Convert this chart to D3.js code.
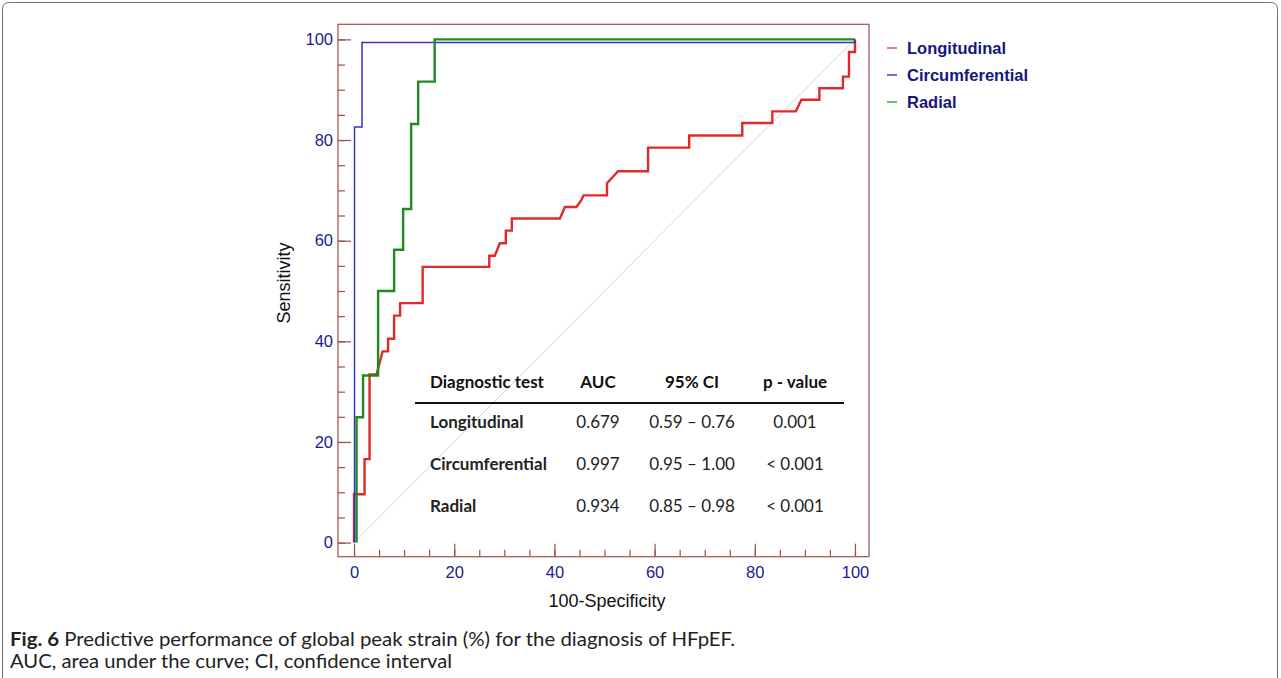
<!DOCTYPE html>
<html>
<head>
<meta charset="utf-8">
<script src="https://cdn.jsdelivr.net/npm/d3@7"></script>
<style>
  html, body { margin: 0; padding: 0; background: #fff; }
  svg { display: block; }
</style>
</head>
<body>
<svg id="chart" width="1281" height="678"></svg>
<script>
// ROC vertices: [100-specificity, sensitivity]
const rocLongitudinal = [
  [0, 0], [0, 9.6], [2.1, 9.6], [2.1, 16.6], [3.1, 16.6], [3.1, 33.4], [4.5, 33.4],
  [5.7, 38.0], [6.8, 38.0], [6.8, 40.5], [8.0, 40.5], [8.0, 45.1], [9.2, 45.1],
  [9.2, 47.6], [13.7, 47.6], [13.7, 54.8], [27.0, 54.8], [27.0, 57.0], [28.1, 57.0],
  [29.1, 59.5], [30.3, 59.5], [30.3, 62.0], [31.5, 62.0], [31.5, 64.4], [41.1, 64.4],
  [42.1, 66.7], [44.4, 66.7], [45.4, 68.1], [45.8, 69.0], [50.5, 69.0], [50.5, 71.4],
  [52.7, 73.8], [58.7, 73.8], [58.7, 78.5], [66.9, 78.5], [66.9, 80.9], [77.5, 80.9],
  [77.5, 83.4], [83.5, 83.4], [83.5, 85.7], [88.2, 85.7], [89.3, 88.0], [92.9, 88.0],
  [92.9, 90.3], [97.6, 90.3], [97.6, 92.6], [98.8, 92.6], [98.8, 97.5], [100, 97.5],
  [100, 100]
];
const rocCircumferential = [
  [0.1, 0], [0.1, 82.6], [1.6, 82.6], [1.6, 99.4], [100, 99.4], [100, 100]
];
const rocRadial = [
  [0.5, 0], [0.5, 24.9], [1.8, 24.9], [1.8, 33.2], [4.8, 33.2], [4.8, 50.0],
  [8.0, 50.0], [8.0, 58.2], [9.8, 58.2], [9.8, 66.3], [11.4, 66.3], [11.4, 83.2],
  [12.8, 83.2], [12.8, 91.6], [16.1, 91.6], [16.1, 100], [100, 100]
];

const seriesNames = ["Longitudinal", "Circumferential", "Radial"];
const seriesColors = ["#e02a2a", "#3434c4", "#1f8a1f"];
const legendColors = ["#d25a5a", "#3c3ce6", "#3e9e3e"];
const seriesWidths = [2.4, 1.5, 2.4];

const majorTicks = [0, 20, 40, 60, 80, 100];
const minorTicks = d3.range(0, 101, 5);

const tableHeader = ["Diagnostic test", "AUC", "95% CI", "p - value"];
const tableRows = [
  ["Longitudinal", "0.679", "0.59 \u2013 0.76", "0.001"],
  ["Circumferential", "0.997", "0.95 \u2013 1.00", "< 0.001"],
  ["Radial", "0.934", "0.85 \u2013 0.98", "< 0.001"]
];

const captionBold = "Fig. 6";
const captionLine1 = " Predictive performance of global peak strain (%) for the diagnosis of HFpEF.";
const captionLine2 = "AUC, area under the curve; CI, confidence interval";

const svg = d3.select("#chart");

// figure frame
svg.append("rect")
  .attr("x", 2.5).attr("y", 2.5)
  .attr("width", 1275).attr("height", 700)
  .attr("rx", 6)
  .attr("fill", "none")
  .attr("stroke", "#6e6e6e")
  .attr("stroke-width", 1);

const plotLeft = 338, plotRight = 869, plotTop = 24.3, plotBottom = 556.7;
const x = d3.scaleLinear().domain([-3.2, 102.8]).range([plotLeft, plotRight]);
const y = d3.scaleLinear().domain([-2.8, 103]).range([plotBottom, plotTop]);

const frameColor = "#a34c4c";
const labelColor = "#1c1c8e";

// diagonal reference
svg.append("line")
  .attr("x1", x(0)).attr("y1", y(0))
  .attr("x2", x(100)).attr("y2", y(100))
  .attr("stroke", "#d4d4d4")
  .attr("stroke-width", 1);

// curves
const line = d3.line().x(d => x(d[0])).y(d => y(d[1]));
[rocLongitudinal, rocCircumferential, rocRadial].forEach((data, i) => {
  svg.append("path")
    .datum(data)
    .attr("d", line)
    .attr("fill", "none")
    .attr("stroke", seriesColors[i])
    .attr("stroke-width", seriesWidths[i])
    .attr("stroke-linejoin", "miter");
});

// plot border
svg.append("rect")
  .attr("x", plotLeft).attr("y", plotTop)
  .attr("width", plotRight - plotLeft).attr("height", plotBottom - plotTop)
  .attr("fill", "none")
  .attr("stroke", frameColor)
  .attr("stroke-width", 1.2);

function styleAxis(g) {
  g.select(".domain").remove();
  g.selectAll(".tick line").attr("stroke", frameColor).attr("stroke-width", 1.2);
  g.selectAll(".tick text")
    .attr("fill", labelColor)
    .attr("font-family", "Liberation Sans, Arial, sans-serif")
    .attr("font-size", 16.5);
}

// x axis: minor + major ticks pointing inward
svg.append("g").attr("transform", `translate(0,${plotBottom})`)
  .call(d3.axisBottom(x).tickValues(minorTicks).tickSize(-7).tickFormat(""))
  .call(styleAxis);
svg.append("g").attr("transform", `translate(0,${plotBottom})`)
  .call(d3.axisBottom(x).tickValues(majorTicks).tickSize(-13).tickPadding(10).tickFormat(d3.format("d")))
  .call(styleAxis);

// y axis
svg.append("g").attr("transform", `translate(${plotLeft},0)`)
  .call(d3.axisLeft(y).tickValues(minorTicks).tickSize(-7).tickFormat(""))
  .call(styleAxis);
svg.append("g").attr("transform", `translate(${plotLeft},0)`)
  .call(d3.axisLeft(y).tickValues(majorTicks).tickSize(-13).tickPadding(5).tickFormat(d3.format("d")))
  .call(styleAxis);

// axis titles
svg.append("text")
  .attr("x", 607).attr("y", 606.5)
  .attr("text-anchor", "middle")
  .attr("font-family", "Liberation Sans, Arial, sans-serif")
  .attr("font-size", 18)
  .attr("fill", "#111")
  .text("100-Specificity");
svg.append("text")
  .attr("transform", "translate(290,283) rotate(-90)")
  .attr("text-anchor", "middle")
  .attr("font-family", "Liberation Sans, Arial, sans-serif")
  .attr("font-size", 18)
  .attr("fill", "#111")
  .text("Sensitivity");

// legend
const legend = svg.append("g").attr("transform", "translate(887,48)");
seriesNames.forEach((name, i) => {
  const g = legend.append("g").attr("transform", `translate(0,${i * 27})`);
  g.append("line")
    .attr("x1", 0).attr("x2", 10).attr("y1", 0).attr("y2", 0)
    .attr("stroke", legendColors[i]).attr("stroke-width", 1.5);
  g.append("text")
    .attr("x", 20).attr("y", 6)
    .attr("font-family", "Liberation Sans, Arial, sans-serif")
    .attr("font-size", 16.5)
    .attr("font-weight", "bold")
    .attr("fill", "#16167e")
    .text(name);
});

// embedded table
const colX = [430, 598, 692, 795];
const colAnchor = ["start", "middle", "middle", "middle"];
const tableFont = "Lato, 'Open Sans', sans-serif";
const table = svg.append("g");
table.selectAll("text.head")
  .data(tableHeader)
  .join("text")
  .attr("class", "head")
  .attr("x", (d, i) => colX[i])
  .attr("y", 388)
  .attr("text-anchor", (d, i) => colAnchor[i])
  .attr("font-family", tableFont)
  .attr("font-size", 17)
  .attr("font-weight", "bold")
  .attr("fill", "#111")
  .text(d => d);
table.append("line")
  .attr("x1", 415).attr("x2", 844)
  .attr("y1", 403).attr("y2", 403)
  .attr("stroke", "#111").attr("stroke-width", 2);
tableRows.forEach((row, r) => {
  table.selectAll(null)
    .data(row)
    .join("text")
    .attr("x", (d, i) => colX[i])
    .attr("y", 427.5 + r * 42)
    .attr("text-anchor", (d, i) => colAnchor[i])
    .attr("font-family", tableFont)
    .attr("font-size", 17)
    .attr("font-weight", (d, i) => i === 0 ? "bold" : "normal")
    .attr("fill", "#222")
    .text(d => d);
});

// caption
const cap = svg.append("text")
  .attr("x", 10).attr("y", 646)
  .attr("font-family", tableFont)
  .attr("font-size", 19)
  .attr("textLength", 725)
  .attr("lengthAdjust", "spacingAndGlyphs")
  .attr("fill", "#222");
cap.append("tspan").attr("font-weight", "bold").text(captionBold);
cap.append("tspan").text(captionLine1);
svg.append("text")
  .attr("x", 10).attr("y", 668)
  .attr("font-family", tableFont)
  .attr("font-size", 19)
  .attr("textLength", 442)
  .attr("lengthAdjust", "spacingAndGlyphs")
  .attr("fill", "#222")
  .text(captionLine2);
</script>
</body>
</html>
